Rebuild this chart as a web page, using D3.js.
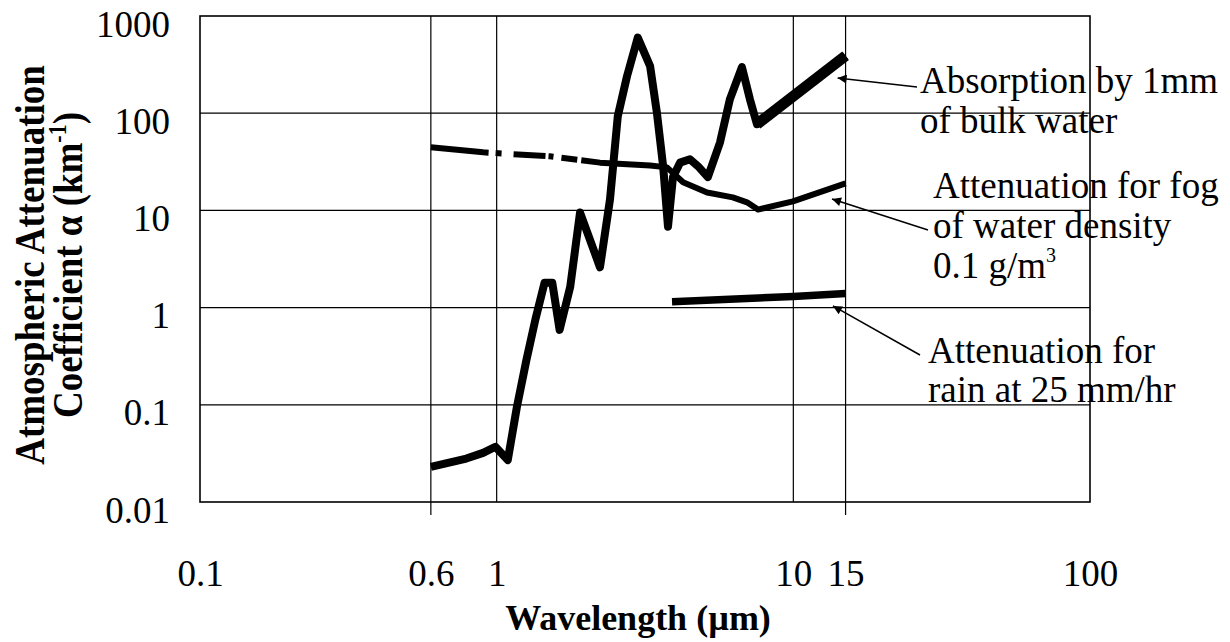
<!DOCTYPE html>
<html>
<head>
<meta charset="utf-8">
<script src="https://cdn.jsdelivr.net/npm/d3@7"></script>
<style>
	body { margin: 0; background: #fff; }
	svg { display: block; }
	text { font-family: "Liberation Serif", "Times New Roman", serif; fill: #000; }
</style>
</head>
<body>
<div id="chart"></div>
<script>
// absorption by 1mm of bulk water
const absWavelength = [0.6, 0.79, 0.9, 0.99, 1.09, 1.17, 1.26, 1.35, 1.45, 1.54, 1.63, 1.77, 1.91, 2.23, 2.41, 2.56, 2.75, 2.99, 3.29, 3.47, 3.64, 3.78, 3.93, 4.15, 4.48, 4.77, 5.15, 5.66, 6.11, 6.71, 7.14, 7.54, 15];
const absValue = [0.023, 0.028, 0.032, 0.037, 0.027, 0.095, 0.29, 0.75, 1.8, 1.8, 0.59, 1.64, 9.5, 2.6, 13, 93, 240, 600, 305, 100, 28.5, 6.8, 22, 31, 33.6, 28.5, 22, 50, 139, 298, 139, 77, 390];

// fog, water density 0.1 g/m3
const fogWavelength = [0.6, 0.9, 1.51, 2.23, 3.29, 3.75, 4.25, 5.12, 6.25, 6.98, 7.6, 9.97, 15];
const fogValue = [44.6, 39.6, 36, 31, 29, 27.7, 19.5, 15.3, 13.6, 12.1, 10.2, 12.4, 19];

// rain at 25 mm/hr
const rainWavelength = [3.9, 10, 15];
const rainValue = [1.15, 1.3, 1.4];

const xTicks = [0.1, 0.6, 1, 10, 15, 100];
const yTicks = [0.01, 0.1, 1, 10, 100, 1000];
const xGrid = [0.6, 1, 10, 15];
const xTickMarks = [0.6, 15];
const yGrid = [0.1, 1, 10, 100];

const width = 1230, height = 642;
const plotLeft = 200, plotRight = 1090, plotTop = 16, plotBottom = 502;

const svg = d3.select('#chart').append('svg')
	.attr('width', width)
	.attr('height', height);

const x = d3.scaleLog().domain([0.1, 100]).range([plotLeft, plotRight]);
const y = d3.scaleLog().domain([0.01, 1000]).range([plotBottom, plotTop]);

// grid
svg.append('g').selectAll('line').data(yGrid).enter().append('line')
	.attr('x1', plotLeft).attr('x2', plotRight)
	.attr('y1', d => y(d)).attr('y2', d => y(d))
	.attr('stroke', '#000').attr('stroke-width', 1.2);

svg.append('g').selectAll('line').data(xGrid).enter().append('line')
	.attr('x1', d => x(d)).attr('x2', d => x(d))
	.attr('y1', plotTop)
	.attr('y2', d => xTickMarks.includes(d) ? plotBottom + 13 : plotBottom)
	.attr('stroke', '#000').attr('stroke-width', 1.2);

svg.append('rect')
	.attr('x', plotLeft).attr('y', plotTop)
	.attr('width', plotRight - plotLeft).attr('height', plotBottom - plotTop)
	.attr('fill', 'none').attr('stroke', '#000').attr('stroke-width', 1.6);

// axes
const yAxis = d3.axisLeft(y).tickValues(yTicks).tickSize(0).tickPadding(30).tickFormat(d => String(d));
const gy = svg.append('g').attr('transform', `translate(${plotLeft},0)`).call(yAxis);
gy.select('.domain').remove();
gy.selectAll('text').attr('font-size', 37).attr('dy', 0).attr('y', 20);
gy.attr('font-family', null).attr('font-size', null);

const xAxis = d3.axisBottom(x).tickValues(xTicks).tickSize(0).tickFormat(d => String(d));
const gx = svg.append('g').attr('transform', `translate(0,${plotBottom})`).call(xAxis);
gx.select('.domain').remove();
gx.selectAll('text').attr('font-size', 37).attr('dy', 0).attr('y', 84);
gx.attr('font-family', null).attr('font-size', null);

// axis titles
svg.append('text')
	.attr('x', 638).attr('y', 630)
	.attr('text-anchor', 'middle')
	.attr('font-size', 36).attr('font-weight', 'bold')
	.text('Wavelength (\u00b5m)');

svg.append('text')
	.attr('transform', 'translate(44,265) rotate(-90) scale(1,1.15)')
	.attr('text-anchor', 'middle')
	.attr('font-size', 37).attr('font-weight', 'bold')
	.text('Atmospheric Attenuation');

const yTitle2 = svg.append('text')
	.attr('transform', 'translate(82,265) rotate(-90) scale(1,1.15)')
	.attr('text-anchor', 'middle')
	.attr('font-size', 37).attr('font-weight', 'bold');
yTitle2.append('tspan').text('Coefficient \u03b1 (km');
yTitle2.append('tspan').attr('font-size', 22).attr('dy', -14).text('-1');
yTitle2.append('tspan').attr('dy', 14).text(')');

// curves
const line = d3.line().x(d => x(d[0])).y(d => y(d[1]));
const absData = absWavelength.map((w, i) => [w, absValue[i]]);
const fogData = fogWavelength.map((w, i) => [w, fogValue[i]]);
const rainData = rainWavelength.map((w, i) => [w, rainValue[i]]);

svg.append('path')
	.attr('d', line(fogData))
	.attr('fill', 'none').attr('stroke', '#000').attr('stroke-width', 6)
	.attr('stroke-linejoin', 'round')
	.attr('stroke-dasharray', '58,7,6,12,32,3,5,8,16,4,2000');

svg.append('path')
	.attr('d', line(rainData))
	.attr('fill', 'none').attr('stroke', '#000').attr('stroke-width', 7.5);

svg.append('path')
	.attr('d', line(absData))
	.attr('fill', 'none').attr('stroke', '#000').attr('stroke-width', 8)
	.attr('stroke-linejoin', 'round');

svg.append('path')
	.attr('d', line(absData.slice(-2)))
	.attr('fill', 'none').attr('stroke', '#000').attr('stroke-width', 11);

// annotations
svg.append('defs').append('marker')
	.attr('id', 'arrow')
	.attr('viewBox', '0 0 10 10')
	.attr('refX', 10).attr('refY', 5)
	.attr('markerUnits', 'userSpaceOnUse')
	.attr('markerWidth', 12).attr('markerHeight', 9)
	.attr('orient', 'auto')
	.append('path').attr('d', 'M0,0L10,5L0,10Z').attr('fill', '#000');

const annotations = [
	{ lines: ['Absorption by 1mm', 'of bulk water'], tx: 920, ty: 93, gap: 40, tail: [917, 87], tip: [14.1, 230] },
	{ lines: ['Attenuation for fog', 'of water density', '0.1 g/m'], tx: 933, ty: 198, gap: 40, tail: [928, 230], tip: [13.5, 13.1] },
	{ lines: ['Attenuation for', 'rain at 25 mm/hr'], tx: 928, ty: 363, gap: 39, tail: [920, 355], tip: [13.6, 1.04] },
];

annotations.forEach(a => {
	svg.append('line')
		.attr('x1', a.tail[0]).attr('y1', a.tail[1])
		.attr('x2', x(a.tip[0])).attr('y2', y(a.tip[1]))
		.attr('stroke', '#000').attr('stroke-width', 1.5)
		.attr('marker-end', 'url(#arrow)');
	a.lines.forEach((t, i) => {
		const txt = svg.append('text')
			.attr('x', a.tx).attr('y', a.ty + i * a.gap)
			.attr('font-size', 37)
			.text(t);
		if (t === '0.1 g/m') {
			txt.append('tspan').attr('font-size', 20).attr('dy', -16).text('3');
		}
	});
});
</script>
</body>
</html>
